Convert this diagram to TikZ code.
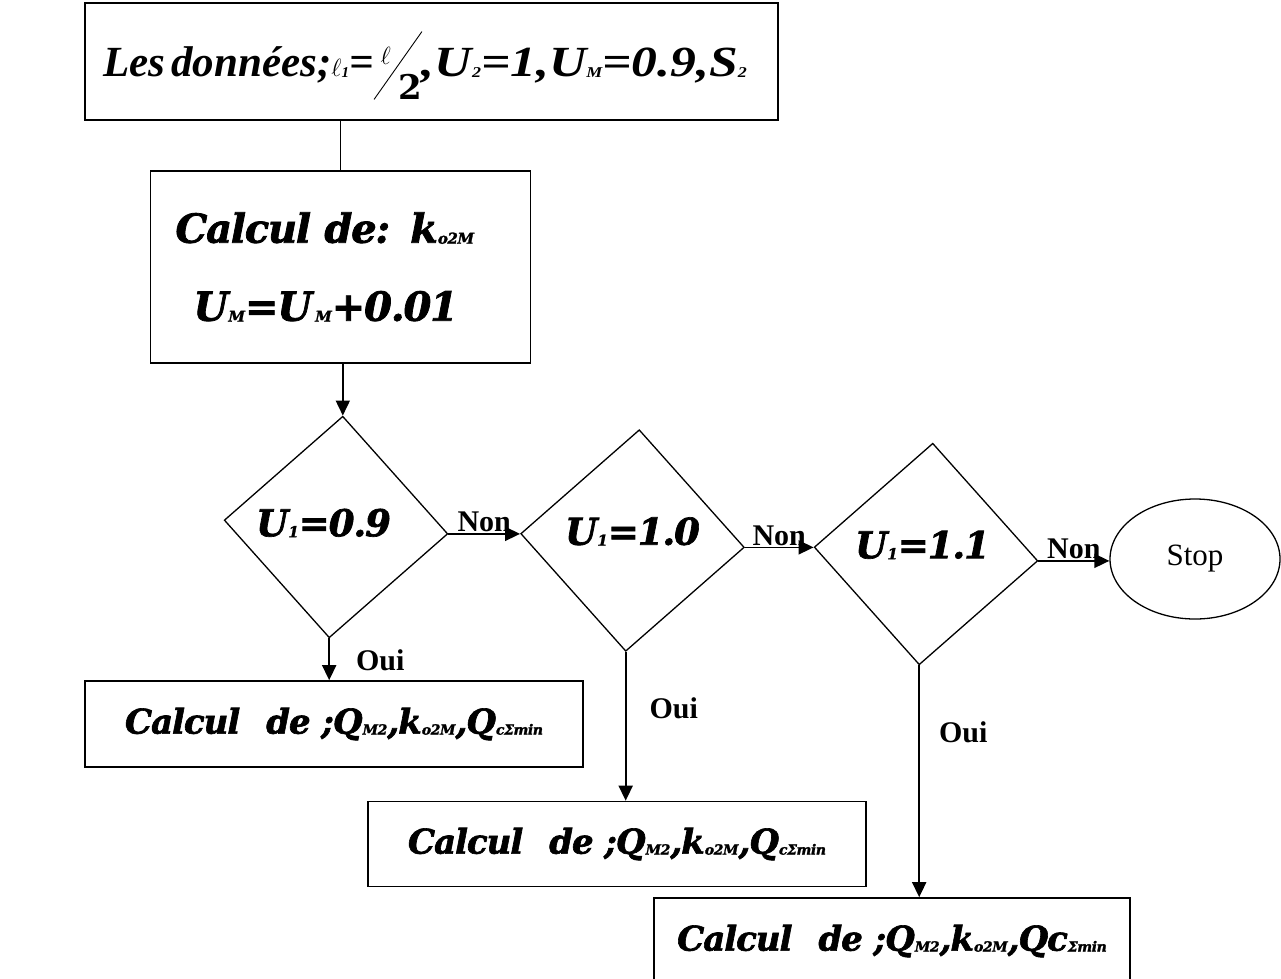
\documentclass[tikz,border=0pt]{standalone}
\usepackage{fontspec}
\setmainfont{DejaVu Serif}[BoldItalicFeatures={FakeBold=1.8,LetterSpace=-3}]
\newfontfamily\timesfam{Liberation Serif}
\usetikzlibrary{shapes.geometric,arrows.meta}

% small index set on the baseline
\newcommand\lowsub[2][13]{\raisebox{-1pt}{\fontsize{#1}{#1}\selectfont #2}}
% label of a decision: kept level although the diamond is tilted
\newcommand\dtext[3]{\rotatebox{3.5}{\makebox[0pt][c]{\hspace{#1}\raisebox{#2}[\height][\depth]{#3}}}}
% the ratio l over 2 with a long thin bar
\newcommand\halfell{%
  \makebox[0pt][l]{\hspace{7pt}\raisebox{12pt}{\mdseries\fontsize{30}{30}\selectfont$\ell$}}%
  \raisebox{-23pt}{\rotatebox{54.8}{\rule{83pt}{0.9pt}}}%
  \kern-24pt\raisebox{-23pt}{\fontsize{34}{34}\selectfont\rmfamily\bfseries\upshape 2}}

\tikzset{
  box/.style={draw, rectangle, line width=1.6pt, inner sep=0pt,
    font=\bfseries\itshape},
  test/.style={draw, diamond, line width=1.3pt, inner sep=0pt,
    minimum width=224pt, minimum height=222pt, rotate=-3.5,
    font=\bfseries\itshape\fontsize{37}{37}\selectfont},
  halt/.style={draw, ellipse, line width=1.3pt, minimum width=170pt,
    minimum height=120pt, font=\timesfam\fontsize{31}{31}\selectfont},
  flow/.style={line width=1.7pt, -{Triangle[length=15pt,width=14pt]}},
  link/.style={line width=1.8pt},
  tag/.style={font=\timesfam\bfseries\fontsize{30}{30}\selectfont, inner sep=1pt},
  result/.style={box, minimum height=86pt,
    font=\bfseries\itshape\fontsize{34}{34}\selectfont},
}

\begin{document}
\begin{tikzpicture}[x=1pt,y=-1pt]
\useasboundingbox (0,0) rectangle (1281,978);

% input data
\node[box, minimum width=693pt, minimum height=117pt, text width=657pt, align=left]
  (data) at (431.5,61.5)
  {\raisebox{-4pt}[\height][\depth]{\timesfam\bfseries\itshape\fontsize{43}{43}\selectfont
   Les\hspace{3pt} données;{\mdseries\fontsize{32}{32}\selectfont$\ell$}\lowsub[15]{1}=\halfell
   \scalebox{1.2}[1]{,U\lowsub[15]{2}=1,U\lowsub[15]{M}=0.9,S\lowsub[15]{2}}}};

% computation of k and increment
\node[box, minimum width=380pt, minimum height=192pt, text width=330pt, align=left,
  font=\bfseries\itshape\fontsize{40}{78}\selectfont]
  (calc) at (340.5,267)
  {Calcul de: k\lowsub[15]{o2M}\\
   \hspace*{18pt}U\lowsub[15]{M}=U\kern3pt\lowsub[15]{M}+0.01};

% decisions
\node[test] (d1) at (336,527) {\dtext{-25pt}{4pt}{U\lowsub[15]{1}=0.9}};
\node[test] (d2) at (632.5,540.5) {\dtext{0pt}{9pt}{U\lowsub[15]{1}=1.0}};
\node[test] (d3) at (926,554) {\dtext{-7pt}{9pt}{U\lowsub[15]{1}=1.1}};

\node[halt] (stop) at (1195,559) {Stop};

% results
\node[result, minimum width=498pt] (r1) at (334,724)
  {Calcul\hspace{26pt}de ;Q\lowsub[14]{M2},k\lowsub[14]{o2M},Q\lowsub[14]{cΣmin}};
\node[result, minimum width=498pt, minimum height=85pt] (r2) at (617,844)
  {Calcul\hspace{26pt}de ;Q\lowsub[14]{M2},k\lowsub[14]{o2M},Q\lowsub[14]{cΣmin}};
\node[result, minimum width=476pt] (r3) at (892,941)
  {Calcul\hspace{26pt}de ;Q\lowsub[14]{M2},k\lowsub[14]{o2M},Qc\lowsub[14]{Σmin}};

% connectors
\draw[link] (data.south -| calc.north) -- (calc.north);
\draw[flow] (d1.north |- calc.south) -- (d1.north);
\draw[flow] (d1.east) -- (d1.east -| d2.west) node[tag, midway, above] {Non};
\draw[flow] (d2.east) -- (d2.east -| d3.west) node[tag, midway, above] {Non};
\draw[flow] (d3.east) -- (d3.east -| stop.west) node[tag, midway, above] {Non};
\draw[flow] (d1.south) -- (d1.south |- r1.north) node[tag, pos=0.52, right, xshift=25pt] {Oui};
\draw[flow] (d2.south) -- (d2.south |- r2.north) node[tag, pos=0.38, right, xshift=22pt] {Oui};
\draw[flow] (d3.south) -- (d3.south |- r3.north) node[tag, pos=0.29, right, xshift=18pt] {Oui};
\end{tikzpicture}
\end{document}
